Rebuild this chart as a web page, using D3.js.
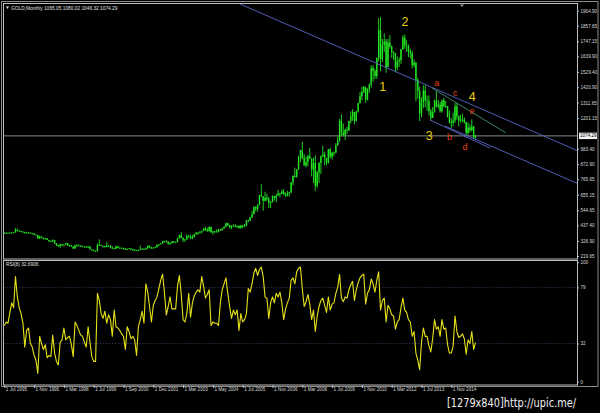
<!DOCTYPE html>
<html><head><meta charset="utf-8">
<script src="https://cdn.jsdelivr.net/npm/d3@7"></script>
<style>body{margin:0;background:#000;overflow:hidden}svg{display:block}</style>
</head><body>
<svg id="c" width="600" height="413"></svg>
<script>
// ---- DATA (monthly bars, GOLD) ----
const closes = [
383,383,384,383,387,387,
405,400,396,392,391,382,385,386,379,379,371,369,
345,358,349,340,345,334,326,325,332,311,296,290,
303,297,301,310,293,296,288,273,294,292,294,288,
287,287,280,286,268,262,255,254,299,299,292,290,
283,293,290,278,274,272,288,277,278,277,273,
264,270,274,266,267,258,260,264,267,271,266,273,293,279,275,279,
282,297,303,309,326,322,318,304,312,324,316,318,347,368,348,334,
337,361,356,346,355,375,385,386,392,398,416,403,397,427,387,394,
395,391,409,405,416,428,453,438,422,435,432,429,435,418,437,429,
433,473,470,495,517,568,556,582,654,643,613,633,624,599,604,646,
632,650,665,662,678,659,650,665,672,743,789,783,834,923,972,916,
863,887,930,912,833,880,718,815,882,928,942,916,883,979,926,954,
955,1007,1040,1182,1097,1081,1118,1113,1180,1213,1244,1181,1248,1307,1357,1386,
1421,1332,1410,1439,1556,1536,1500,1628,1826,1620,1722,1746,1565,1738,1710,1669,
1664,1560,1604,1614,1691,1773,1719,1712,1675,1663,1578,1595,1472,1393,1234,1313,
1396,1327,1323,1250,1202,1244,1326,1284,1296,1250,1327,1282,1287,1210,1171,1168,
1184,1283,1213,1183,1184,1190,1172,1095,1133,1115,1142,1065,1074.29
];
const highs = [
390,389,387,388,389,390,
418,416,403,397,395,392,389,391,387,384,384,374,
370,364,358,348,349,347,335,330,338,333,312,298,
308,304,302,316,311,300,297,289,300,305,301,296,
292,290,289,292,290,269,265,259,307,338,299,292,
292,318,298,297,290,279,293,292,282,280,278,
275,271,275,272,268,268,264,266,294,275,272,280,294,293,285,282,
287,303,304,311,327,328,332,326,318,326,326,322,349,370,389,352,
341,373,370,372,368,377,391,390,396,400,418,428,420,430,428,398,
398,409,410,412,419,431,456,456,442,437,445,446,437,437,441,439,
447,474,477,498,541,573,574,587,654,730,645,677,663,641,611,650,
640,660,690,670,692,694,671,684,677,745,794,848,838,933,975,1033,
946,928,940,988,914,920,935,825,887,935,1005,962,918,981,989,961,
963,1023,1070,1195,1227,1162,1125,1140,1180,1249,1265,1245,1252,1310,1388,1424,
1431,1424,1412,1447,1576,1577,1552,1632,1912,1921,1764,1804,1764,1764,1791,1717,
1676,1665,1640,1632,1692,1790,1796,1755,1724,1695,1681,1617,1600,1487,1424,1348,
1434,1434,1362,1362,1267,1280,1332,1392,1331,1315,1332,1345,1323,1287,1255,1200,
1239,1307,1308,1220,1224,1232,1205,1175,1170,1157,1191,1142,1080.02
];
const lows = [
381,380,381,381,382,384,
387,395,393,389,388,381,380,384,378,377,370,366,
340,341,345,337,338,333,318,320,318,305,291,283,
278,291,287,300,291,287,286,270,272,288,290,284,
283,282,278,277,267,257,252,251,253,292,288,280,
280,282,285,274,272,267,271,275,272,270,266,
263,261,268,262,255,256,255,255,263,264,262,264,271,276,271,271,
277,281,289,300,307,315,316,301,301,309,311,313,317,343,346,320,
320,337,350,340,339,350,370,370,380,380,397,398,390,392,387,371,
382,386,387,398,399,411,424,434,416,410,428,424,420,414,414,417,
427,431,460,468,489,515,538,535,582,643,542,606,612,560,560,600,
613,602,648,636,660,651,638,643,642,667,723,778,778,834,886,908,
862,850,857,912,786,740,681,705,740,803,925,865,865,878,913,905,
930,950,1003,1034,1075,1071,1045,1087,1110,1163,1182,1155,1176,1240,1305,1328,
1379,1309,1327,1382,1417,1462,1478,1480,1604,1535,1600,1672,1523,1563,1695,1627,
1614,1527,1540,1565,1587,1687,1694,1672,1635,1626,1555,1562,1321,1338,1180,1208,
1271,1277,1251,1221,1182,1202,1239,1277,1268,1240,1240,1280,1273,1205,1161,1131,
1142,1167,1190,1142,1170,1170,1162,1077,1080,1098,1106,1052,1046.32
];
const firstOpen = 385;
const rsi = [
47,50,49,58,66,62,88,71,62,57,49,29,43,45,32,29,22,18,7,38,
32,27,31,20,22,21,39,24,17,14,33,35,45,35,37,38,31,21,50,47,
43,39,38,33,29,46,33,21,17,17,74,68,57,53,59,49,56,52,38,60,
46,45,43,40,38,27,46,42,36,38,35,22,46,52,59,49,82,75,63,50,
64,68,71,78,85,90,74,56,63,71,61,61,61,80,89,73,52,50,57,74,
54,66,72,75,77,75,88,80,70,73,77,47,50,49,49,47,66,77,82,87,
74,63,53,60,56,60,43,57,50,52,57,78,75,82,91,95,89,94,96,88,
71,70,53,66,71,66,74,71,75,66,52,61,66,70,85,87,82,92,95,96,
78,63,67,73,65,52,60,42,55,63,68,70,64,58,71,60,65,66,74,79,
90,70,67,71,70,77,81,84,68,77,83,87,89,90,65,74,77,86,82,75,
85,92,60,68,70,50,64,61,56,55,44,50,52,62,70,60,58,52,50,38,
42,24,18,10,33,45,38,38,30,25,36,52,44,46,38,52,44,45,31,24,
24,30,55,42,37,38,40,36,23,35,32,42,27,32.69
];
const priceTicks = [1964.90,1857.65,1747.15,1639.90,1529.40,1420.90,1311.65,1201.15,983.40,872.90,765.65,655.15,544.65,437.40,326.90,219.65];
const lastPrice = 1074.29;
const timeTickBars = [0,16,32,48,64,80,96,112,128,144,160,176,192,208,224,240];
const timeTickLabels = ["1 Jul 1995","1 Nov 1996","1 Mar 1998","1 Jul 1999","1 Sep 2000","1 Dec 2001","1 Mar 2003","1 May 2004","1 Jul 2005","1 Nov 2006","1 Mar 2008","1 Jul 2009","1 Nov 2010","1 Mar 2012","1 Jul 2013","1 Nov 2014"];
const rsiTicks = [100,79,32,0];
const rsiLevels = [79,32];
// trend lines: [bar1, price1, bar2, price2]
const channelTop = [126.5, 2013, 307.5, 970];
const channelBottom = [236.6, 1144, 307.5, 737];
const lineBD = [228.6, 1187, 260.8, 988];
const lineAE = [229.6, 1415, 269.4, 1095];
// wave labels
const majorWaves = ["1","2","3","4"];
const majorBars = [203.2, 215.1, 228.2, 251.3];
const majorPrices = [1428, 1887, 1073, 1353];
const minorWaves = ["a","b","c","d","e"];
const minorBars = [232.2, 239.1, 242.1, 247.4, 251.1];
const minorPrices = [1455, 1066, 1381, 995, 1249];
const headerText = "GOLD,Monthly  1065.05 1080.02 1046.32 1074.29";
const rsiHeader = "RSI(8) 32.6906";

// ---- LAYOUT ----
const svg = d3.select("#c");
const L = 4, R = 577, mT = 4, mB = 258.5, rT = 261, rB = 384.5;
const FONT = "'Liberation Sans', Arial, sans-serif";
const x = d3.scaleLinear().domain([0, 240]).range([4.3, 451.3]);
const yP = d3.scaleLinear().domain([219.65, 1964.90]).range([256, 10.7]);
const yR = d3.scaleLinear().domain([0, 100]).range([381.7, 262.3]);

svg.append("rect").attr("width",600).attr("height",413).attr("fill","#000");

const defs = svg.append("defs");
defs.append("clipPath").attr("id","cm").append("rect").attr("x",L).attr("y",mT).attr("width",R-L).attr("height",mB-mT);
defs.append("clipPath").attr("id","cr").append("rect").attr("x",L).attr("y",rT).attr("width",R-L).attr("height",rB-rT);

// window frame
svg.append("rect").attr("x",1.5).attr("y",1.5).attr("width",596.5).attr("height",385).attr("fill","none").attr("stroke","#8c8c8c");
svg.append("rect").attr("x",L-0.5).attr("y",mT-0.5).attr("width",R-L+1).attr("height",mB-mT+1).attr("fill","none").attr("stroke","#bdbdbd");
svg.append("rect").attr("x",L-0.5).attr("y",rT-0.5).attr("width",R-L+1).attr("height",rB-rT+1).attr("fill","none").attr("stroke","#bdbdbd");

// ---- MAIN CHART ----
const gm = svg.append("g").attr("clip-path","url(#cm)");
gm.append("line").attr("x1",L).attr("x2",R).attr("y1",yP(lastPrice)).attr("y2",yP(lastPrice)).attr("stroke","#8a8a8a").attr("stroke-width",1);

const bars = closes.map((c,i)=>({i, o: i===0?firstOpen:closes[i-1], h: highs[i], l: lows[i], c}));
const green = "#22e422";
gm.selectAll("line.wick").data(bars).join("line").attr("class","wick")
  .attr("x1",d=>x(d.i)).attr("x2",d=>x(d.i))
  .attr("y1",d=>yP(Math.max(d.h,d.o,d.c))).attr("y2",d=>yP(Math.min(d.l,d.o,d.c)))
  .attr("stroke",green).attr("stroke-width",0.9);
gm.selectAll("rect.body").data(bars).join("rect").attr("class","body")
  .attr("x",d=>x(d.i)-0.7).attr("width",1.4)
  .attr("y",d=>yP(Math.max(d.o,d.c)))
  .attr("height",d=>Math.max(0.8, Math.abs(yP(d.o)-yP(d.c))))
  .attr("fill",green);

function trend(g, t, color, w){
  g.append("line").attr("x1",x(t[0])).attr("y1",yP(t[1])).attr("x2",x(t[2])).attr("y2",yP(t[3]))
   .attr("stroke",color).attr("stroke-width",w||0.9);
}
trend(gm, channelTop, "#5a66c8");
trend(gm, channelBottom, "#5a66c8");
trend(gm, lineBD, "#5a66c8");
trend(gm, lineAE, "#3f8f72");

svg.selectAll("text.maj").data(majorWaves).join("text").attr("class","maj")
  .attr("x",(d,i)=>x(majorBars[i])).attr("y",(d,i)=>yP(majorPrices[i])).attr("dy","0.35em")
  .attr("text-anchor","middle").attr("font-family",FONT).attr("font-size",12.5)
  .attr("fill","#e8cc10").text(d=>d);
svg.selectAll("text.min").data(minorWaves).join("text").attr("class","min")
  .attr("x",(d,i)=>x(minorBars[i])).attr("y",(d,i)=>yP(minorPrices[i])).attr("dy","0.35em")
  .attr("text-anchor","middle").attr("font-family",FONT).attr("font-size",9)
  .attr("fill","#e8401a").text(d=>d);

// header
svg.append("path").attr("d","M6,6.5 L9,6.5 L7.5,9 Z").attr("fill","#e0e0e0");
svg.append("text").attr("x",11).attr("y",8).attr("dy","0.35em").attr("font-family",FONT)
  .attr("font-size",4.8).attr("fill","#e0e0e0").text(headerText);
svg.append("path").attr("d","M460,4.5 L464,4.5 L462,7 Z").attr("fill","#9a9a9a");

// price axis
const pa = svg.append("g").attr("transform",`translate(${R},0)`)
  .call(d3.axisRight(yP).tickValues(priceTicks).tickFormat(d3.format(".2f")).tickSize(2).tickPadding(1.5));
pa.select(".domain").remove();
pa.selectAll("line").attr("stroke","#bdbdbd");
pa.selectAll("text").attr("font-family",FONT).attr("font-size",4.6).attr("fill","#d8d8d8");
svg.append("rect").attr("x",R+2).attr("y",yP(lastPrice)-3.2).attr("width",18).attr("height",6.4).attr("fill","#f4f4f4");
svg.append("text").attr("x",R+3).attr("y",yP(lastPrice)).attr("dy","0.35em").attr("font-family",FONT)
  .attr("font-size",4.6).attr("fill","#000").text(d3.format(".2f")(lastPrice));

// ---- RSI ----
const gr = svg.append("g").attr("clip-path","url(#cr)");
gr.selectAll("line.lvl").data(rsiLevels).join("line").attr("class","lvl")
  .attr("x1",L).attr("x2",R).attr("y1",d=>yR(d)).attr("y2",d=>yR(d))
  .attr("stroke","#3a3a5a").attr("stroke-width",0.8).attr("stroke-dasharray","1.5,1.5");
gr.append("path").datum(rsi)
  .attr("d", d3.line().x((d,i)=>x(i)).y(d=>yR(d)))
  .attr("fill","none").attr("stroke","#e6e21a").attr("stroke-width",1.1).attr("stroke-linejoin","round");
svg.append("text").attr("x",6).attr("y",264.5).attr("dy","0.35em").attr("font-family",FONT)
  .attr("font-size",4.8).attr("fill","#e0e0e0").text(rsiHeader);
const ra = svg.append("g").attr("transform",`translate(${R},0)`)
  .call(d3.axisRight(yR).tickValues(rsiTicks).tickFormat(d3.format("d")).tickSize(2).tickPadding(1.5));
ra.select(".domain").remove();
ra.selectAll("line").attr("stroke","#bdbdbd");
ra.selectAll("text").attr("font-family",FONT).attr("font-size",4.6).attr("fill","#d8d8d8");

// ---- TIME AXIS ----
const ta = svg.append("g").attr("transform",`translate(0,${rB+0.5})`)
  .call(d3.axisBottom(x).tickValues(timeTickBars).tickFormat((d,i)=>timeTickLabels[i]).tickSize(3).tickPadding(1));
ta.select(".domain").remove();
ta.selectAll("line").attr("stroke","#bdbdbd");
ta.selectAll("text").attr("font-family",FONT).attr("font-size",4.6).attr("fill","#d8d8d8")
  .attr("text-anchor","start").attr("x",1).attr("y",4.2).attr("dy","0.35em");

// watermark
svg.append("g").attr("transform","translate(447,406.5) scale(0.75,1)")
  .append("text").attr("x",0).attr("y",0).attr("font-family","'DejaVu Sans', sans-serif")
  .attr("font-size",13).attr("fill","#f0f0f0")
  .text("[1279x840]http://upic.me/");
</script>
</body></html>
